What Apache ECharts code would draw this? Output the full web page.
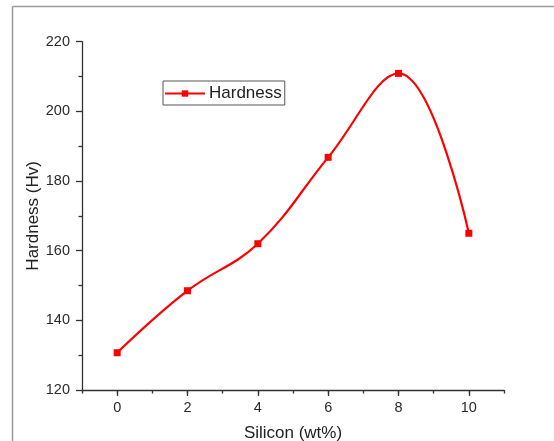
<!DOCTYPE html>
<html>
<head>
<meta charset="utf-8">
<script src="https://cdn.jsdelivr.net/npm/echarts@6/dist/echarts.min.js"></script>
<style>
  html, body { margin: 0; padding: 0; background: #fff; }
  #chart { width: 554px; height: 441px; }
</style>
</head>
<body>
<div id="chart"></div>
<script>
// Silicon content (wt%) and measured Vickers hardness
const silicon = [0, 2, 4, 6, 8, 10];
const hardness = [130.7, 148.5, 162.0, 186.8, 210.9, 165.0];
const xLabelValues = [0, 2, 4, 6, 8, 10];
const yTicks = [120, 140, 160, 180, 200, 220];

const font = '"Liberation Sans", Arial, sans-serif';
const axisColor = '#333';

const chart = echarts.init(document.getElementById('chart'), null, { renderer: 'canvas' });

chart.setOption({
  animation: false,
  backgroundColor: '#fff',
  grid: { left: 82, right: 50, top: 41.7, bottom: 51, containLabel: false, outerBoundsMode: 'none' },
  legend: {
    left: 163, top: 81,
    itemWidth: 40, itemHeight: 8, itemGap: 6,
    padding: [4, 3, 3, 1],
    borderColor: '#555', borderWidth: 1, borderRadius: 0,
    textStyle: { fontFamily: font, fontSize: 17, color: '#222', padding: [0, 0, 0, -1] },
    data: ['Hardness']
  },
  xAxis: [
    {
      type: 'value', min: -1, max: 11, interval: 1,
      name: 'Silicon (wt%)', nameLocation: 'middle', nameGap: 35,
      nameTextStyle: { fontFamily: font, fontSize: 17, color: '#222' },
      axisLine: { show: true, onZero: false, lineStyle: { color: axisColor, width: 1.3 } },
      axisTick: { show: true, customValues: xLabelValues, length: 6, inside: false, lineStyle: { color: axisColor, width: 1.3 } },
      axisLabel: { customValues: xLabelValues, fontFamily: font, fontSize: 14.5, color: '#2a2a2a', margin: 10 },
      splitLine: { show: false }
    },
    {
      // shorter ticks at every integer
      type: 'value', min: -1, max: 11, interval: 1, position: 'bottom',
      axisLine: { show: false },
      axisTick: { show: true, length: 3.5, lineStyle: { color: axisColor, width: 1.3 } },
      axisLabel: { show: false },
      splitLine: { show: false }
    }
  ],
  yAxis: {
    type: 'value', min: 120, max: 220, interval: 20,
    name: 'Hardness (Hv)', nameLocation: 'middle', nameGap: 40, nameRotate: 90,
    nameMoveOverlap: false,
    nameTextStyle: { fontFamily: font, fontSize: 17, color: '#222' },
    axisLine: { show: true, onZero: false, lineStyle: { color: axisColor, width: 1.3 } },
    axisTick: { show: true, length: 6, lineStyle: { color: axisColor, width: 1.3 } },
    minorTick: { show: true, splitNumber: 2, length: 3.5, lineStyle: { color: axisColor, width: 1.3 } },
    axisLabel: { fontFamily: font, fontSize: 14.5, color: '#2a2a2a', margin: 12,
      customValues: yTicks },
    splitLine: { show: false }
  },
  series: [{
    name: 'Hardness',
    type: 'line',
    data: silicon.map((x, i) => [x, hardness[i]]),
    smooth: 0.4,
    symbol: 'rect', symbolSize: 7,
    lineStyle: { color: '#ff0000', width: 2.2 },
    itemStyle: { color: '#ff0000' }
  }],
  graphic: [
    { type: 'line', shape: { x1: 12.5, y1: 6.5, x2: 554, y2: 6.5 }, style: { stroke: '#9a9a9a', lineWidth: 1.5 } },
    { type: 'line', shape: { x1: 12.5, y1: 6.5, x2: 12.5, y2: 441 }, style: { stroke: '#9a9a9a', lineWidth: 1.5 } }
  ]
});
</script>
</body>
</html>
